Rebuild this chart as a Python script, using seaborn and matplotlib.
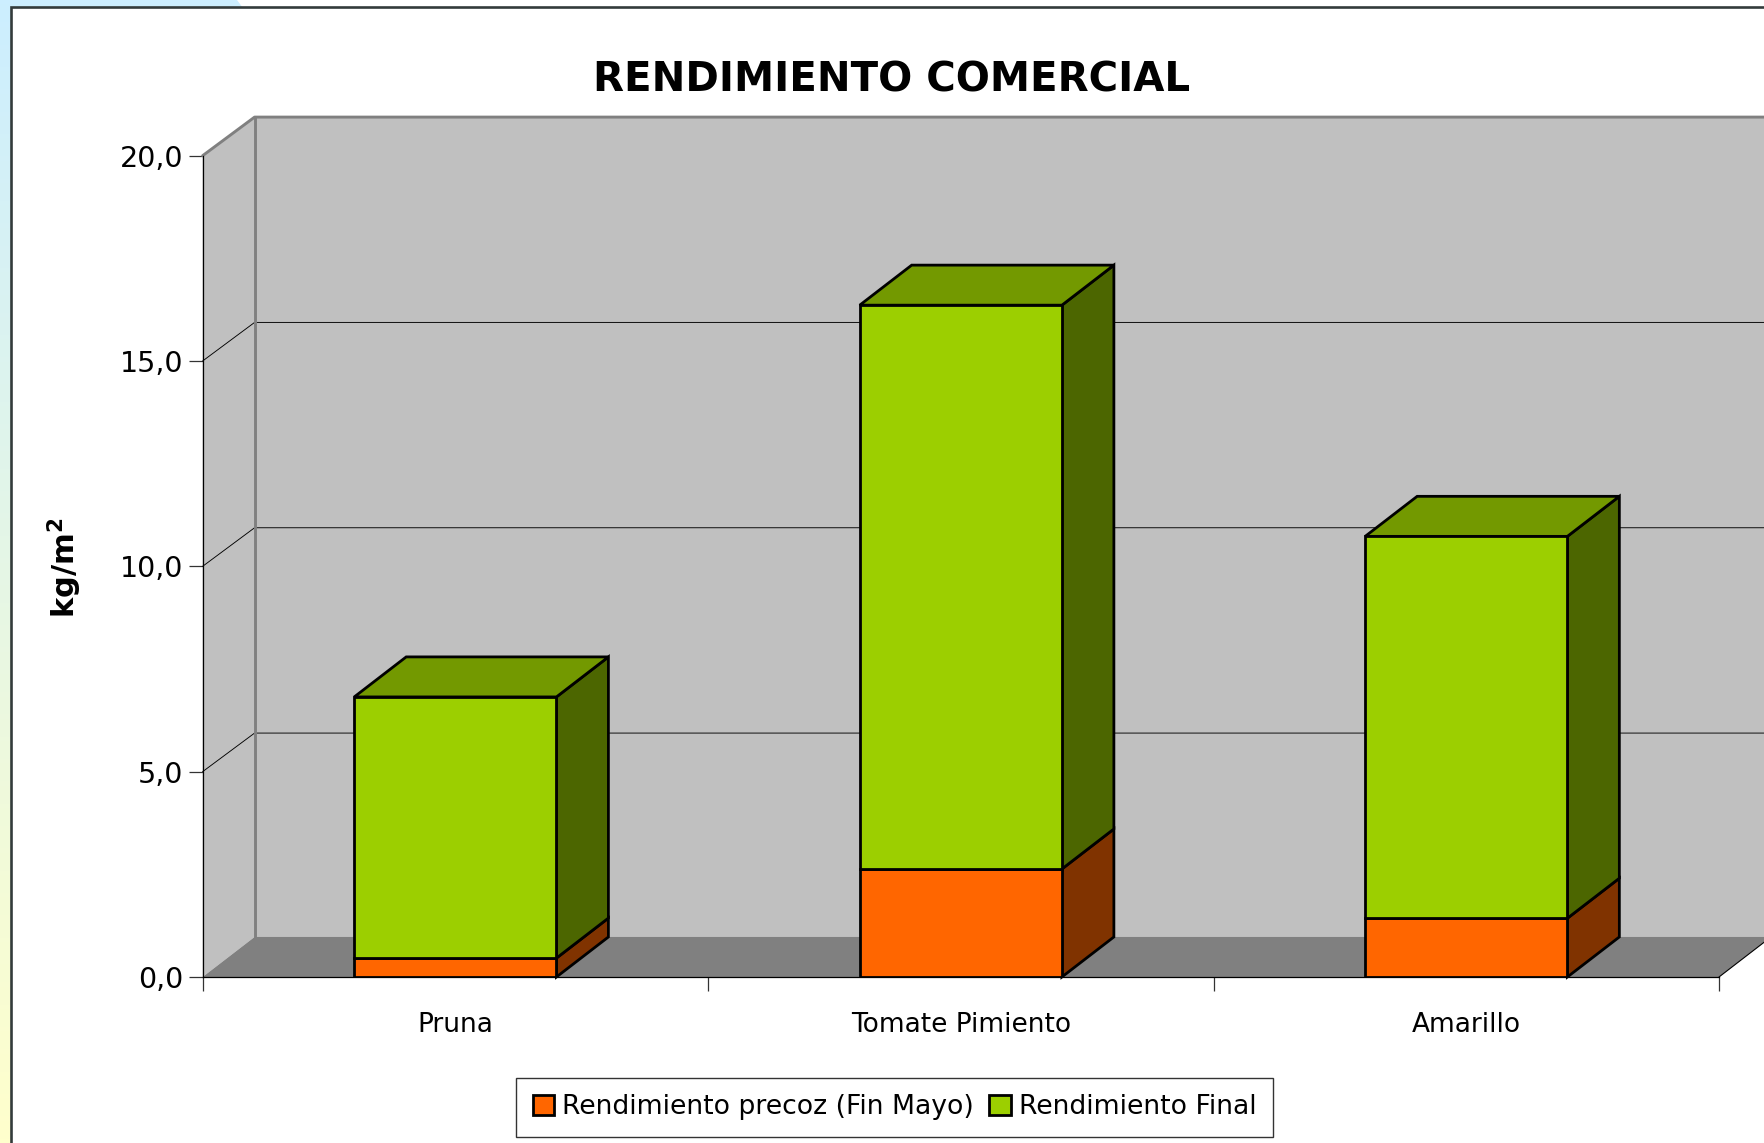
import numpy as np
import pandas as pd
import seaborn as sns
import matplotlib.pyplot as plt
from matplotlib.colors import LinearSegmentedColormap
from matplotlib.patches import Polygon, Rectangle

categories = ["Pruna", "Tomate Pimiento", "Amarillo"]
precoz = [0.46, 2.63, 1.43]
final = [6.36, 13.73, 9.30]
y_ticks = [0, 5, 10, 15, 20]
y_labels = ["0,0", "5,0", "10,0", "15,0", "20,0"]
series_names = ["Rendimiento precoz (Fin Mayo)", "Rendimiento Final"]

W, H = 1765, 1143
FONT = "DejaVu Sans"
# depth of the fake 3D box, in data units
DX = 52 / 505.6
DY = 0.975
WALL_DY = 0.94
BAR_W = 0.4

sns.set_theme(style="white")
plt.rcParams["font.family"] = [FONT]
plt.rcParams["mathtext.fontset"] = "dejavusans"

df = pd.DataFrame({"cat": categories, "precoz": precoz, "final": final})

fig = plt.figure(figsize=(W / 100, H / 100), dpi=100, facecolor="white")

# page background and chart frame, in pixels
bg = fig.add_axes([0, 0, 1, 1], zorder=0)
bg.set_xlim(0, W)
bg.set_ylim(H, 0)
bg.axis("off")
grad = np.linspace(0, 1, 256).reshape(-1, 1)
cmap = LinearSegmentedColormap.from_list("page", ["#cceeff", "#ffffcc"])
bg.imshow(grad, cmap=cmap, extent=[0, W, H, 0], aspect="auto")
bg.add_patch(Polygon([(237, 0), (W, 0), (W, 8), (243, 8)], fc="white", ec="none"))
bg.add_patch(Rectangle((11, 6.5), W, H, fc="white", ec="#333b3b", lw=1.9))

# plot area, 0..20 between y=977 and y=155.7, three categories between x=202.6 and x=1719
ax = fig.add_axes([202.6 / W, 1 - 977 / H, (1719 - 202.6) / W, (977 - 155.7) / H], zorder=1)
ax.patch.set_visible(False)

# walls and floor
xmin, xmax, ymax = -0.5, 2.5, 20
wall = "#c0c0c0"
ax.add_patch(Polygon([(xmin, 0), (xmin + DX, DY), (xmin + DX, ymax + WALL_DY), (xmin, ymax)], fc=wall, ec="none", clip_on=False, zorder=0.5))
ax.add_patch(Polygon([(xmin + DX, DY), (xmax + DX, DY), (xmax + DX, ymax + WALL_DY), (xmin + DX, ymax + WALL_DY)], fc=wall, ec="none", clip_on=False, zorder=0.5))
ax.add_patch(Polygon([(xmin, 0), (xmax, 0), (xmax + DX, DY), (xmin + DX, DY)], fc="#808080", ec="none", clip_on=False, zorder=0.6))
for t in y_ticks[1:-1]:
    ax.plot([xmin, xmin + DX, xmax + DX], [t, t + WALL_DY, t + WALL_DY], color="black", lw=0.65, clip_on=False, zorder=0.7)
ax.plot([xmin, xmin + DX, xmax + DX], [ymax, ymax + WALL_DY, ymax + WALL_DY], color="#808080", lw=2.1, clip_on=False, zorder=0.8)
ax.plot([xmin + DX, xmin + DX], [DY, ymax + WALL_DY], color="#808080", lw=2.1, clip_on=False, zorder=0.8)
ax.plot([xmax, xmax + DX], [0, DY], color="black", lw=0.8, clip_on=False, zorder=0.8)

# front faces
sns.barplot(data=df, x="cat", y="precoz", color="#ff6600", saturation=1, width=BAR_W, edgecolor="black",
            linewidth=2, errorbar=None, label=series_names[0], ax=ax, zorder=3)
sns.barplot(data=df, x="cat", y="final", bottom=df["precoz"], color="#9ccf00", saturation=1, width=BAR_W,
            edgecolor="black", linewidth=2, errorbar=None, label=series_names[1], ax=ax, zorder=3)

# sides and tops of the boxes
for i in range(len(categories)):
    r = i + BAR_W / 2
    l = i - BAR_W / 2
    low, mid, top = 0, precoz[i], precoz[i] + final[i]
    ax.add_patch(Polygon([(r, low), (r + DX, low + DY), (r + DX, mid + DY), (r, mid)], fc="#803300", ec="black", lw=2, zorder=2, clip_on=False))
    ax.add_patch(Polygon([(r, mid), (r + DX, mid + DY), (r + DX, top + DY), (r, top)], fc="#4c6600", ec="black", lw=2, zorder=2, clip_on=False))
    ax.add_patch(Polygon([(l, top), (r, top), (r + DX, top + DY), (l + DX, top + DY)], fc="#739900", ec="black", lw=2, zorder=2, clip_on=False))

ax.set_xlim(xmin, xmax)
ax.set_ylim(0, ymax)
ax.set_xlabel("")
ax.set_ylabel("")
for side in ["top", "right"]:
    ax.spines[side].set_visible(False)
for side in ["left", "bottom"]:
    ax.spines[side].set_color("black")
    ax.spines[side].set_linewidth(0.9)
    ax.spines[side].set_zorder(1)
ax.set_yticks(y_ticks)
ax.set_yticklabels(y_labels, fontsize=20.5, color="black")
ax.tick_params(axis="y", left=True, length=10, width=0.9, color="#333333", pad=4)
ax.set_xticks(range(len(categories)))
ax.set_xticklabels(categories, fontsize=19, color="black")
ax.set_xticks(np.arange(xmin, xmax + 0.5), minor=True)
ax.tick_params(axis="x", which="major", bottom=False, length=0, pad=25)
ax.tick_params(axis="x", which="minor", bottom=True, length=10, width=0.9, color="#333333")

fig.text(892 / W, 1 - 81 / H, "RENDIMIENTO COMERCIAL", fontsize=29, fontweight="bold",
         ha="center", va="center", color="black")
fig.text(65 / W, 1 - 568 / H, r"kg/m$\mathbf{^2}$", fontsize=22, fontweight="bold", rotation=90,
         ha="center", va="center", color="black")

handles, labels = ax.get_legend_handles_labels()
leg = ax.legend(handles, labels, loc="center", bbox_to_anchor=(894.5 / W, 1 - 1107.5 / H),
                bbox_transform=fig.transFigure, ncol=2, frameon=True, fancybox=False, fontsize=19.2,
                edgecolor="#333333", facecolor="white", framealpha=1, handlelength=0.8, handleheight=0.8,
                handletextpad=0.3, columnspacing=0.58, borderpad=0.62, borderaxespad=0, labelcolor="black")
leg.get_frame().set_linewidth(1.0)

fig.savefig("out.png", dpi=100)
